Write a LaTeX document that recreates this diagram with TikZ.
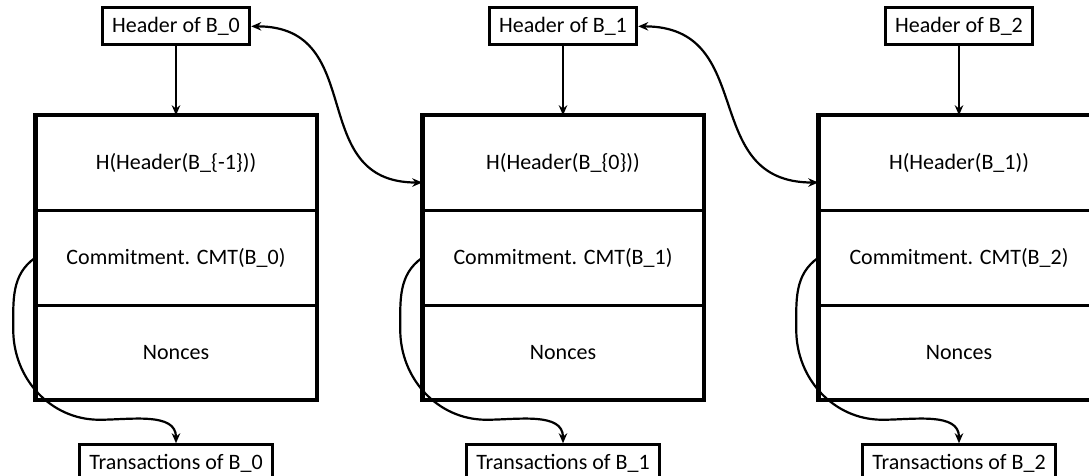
\documentclass[tikz,border=0pt]{standalone}
\usepackage{fontspec}
\setmainfont{Carlito}
\usetikzlibrary{positioning,arrows.meta}

\tikzset{
	>={Stealth[length=10pt,width=8.5pt]},
	cell/.style={draw, line width=1.5pt, minimum width=280pt, minimum height=93.5pt, inner sep=0pt},
	labelbox/.style={draw, line width=2.8pt, minimum height=37pt, inner xsep=10pt, inner ysep=0pt},
	link/.style={line width=2.2pt}
}

\begin{document}
\begin{tikzpicture}[x=1pt, y=1pt, font=\fontsize{22}{26}\selectfont]
	\clip (0,0) rectangle (1089,476);
	
	%blocks
	\foreach \i/\x/\prev in {0/176/{B\_\{-1\}}, 1/563/{B\_\{0\}}, 2/959/{B\_1}} {
		\node[cell] (hash\i) at (\x,313.25) {H(Header(\prev))};
		\node[cell, below=0pt of hash\i] (cmt\i) {Commitment. CMT(B\_\i)};
		\node[cell, below=0pt of cmt\i] (nonce\i) {Nonces};
		\draw[line width=4.5pt] (hash\i.north west) rectangle (nonce\i.south east);
		
		%header and transactions
		\node[labelbox, above=69pt of hash\i] (head\i) {Header of B\_\i};
		\node[labelbox, below=43pt of nonce\i] (tx\i) {Transactions of B\_\i};
		\draw[link, ->] (head\i) -- (hash\i);
		\draw[link, ->] (cmt\i.west) to[out=215, in=90] ++(-22,-72)
			to[out=-90, in=180] ++(86,-90) to[out=0, in=90] (tx\i.north);
	}
	
	%chain
	\draw[link, <->] (head0.east) to[out=0, in=180, looseness=1.3] (hash1.188);
	\draw[link, <->] (head1.east) to[out=0, in=180, looseness=1.3] (hash2.188);
\end{tikzpicture}
\end{document}
